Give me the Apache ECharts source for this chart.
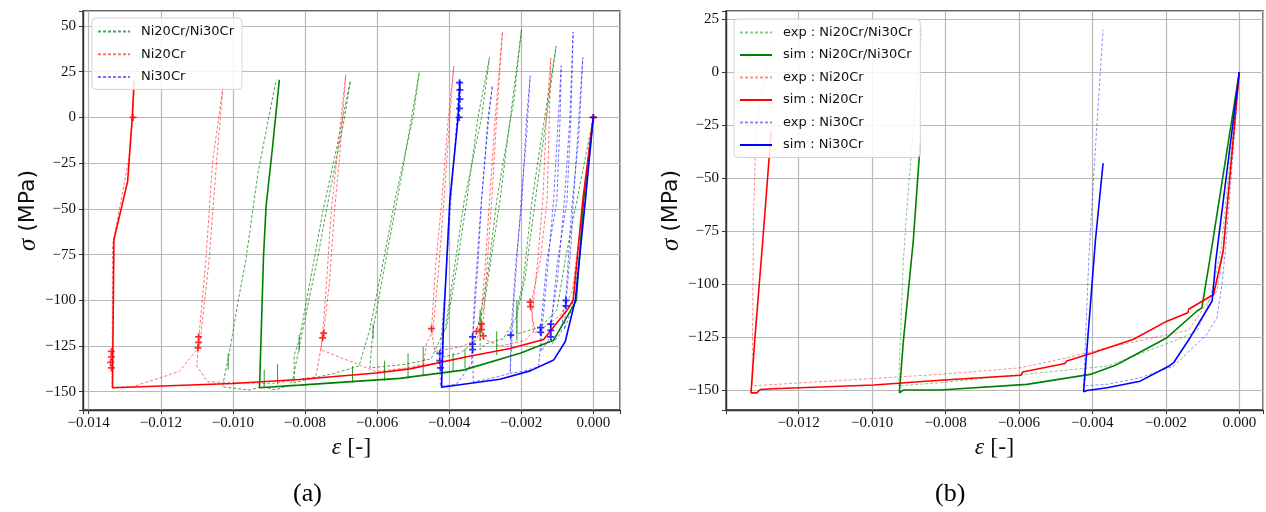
<!DOCTYPE html>
<html><head><meta charset="utf-8">
<script src="https://cdn.jsdelivr.net/npm/echarts@6.0.0/dist/echarts.min.js"></script>
<style>html,body{margin:0;padding:0;background:#fff}#c{width:1266px;height:512px}</style>
</head><body><div id="c"></div><script>
// ---------- (a) data ----------
const greenExpA = [[0,0],[-0.0002,-20],[-0.00078,-78],[-0.00101,-105.5],[-0.00147,-114.6],[-0.00212,-118.5],
 [-0.00212,-105.5],[-0.00194,-89],[-0.0017,-45.5],[-0.00135,0],[-0.00103,39.1],
 [-0.0013,0],[-0.00161,-45.5],[-0.0019,-89],[-0.00215,-110],[-0.0025,-121],[-0.003,-124],[-0.00314,-127],
 [-0.00314,-110],[-0.00305,-105.5],[-0.00287,-81.8],[-0.00259,-45.5],[-0.0023,0],[-0.00199,48.2],
 [-0.0022,10],[-0.00268,-45.5],[-0.0029,-81.8],[-0.0031,-105],[-0.0033,-123],[-0.0037,-129],[-0.00416,-131],
 [-0.00416,-118],[-0.00407,-114.6],[-0.00379,-81.8],[-0.00351,-45.5],[-0.0032,0],[-0.00288,32.7],
 [-0.0031,0],[-0.00358,-45.5],[-0.00385,-81.8],[-0.0041,-115],[-0.0045,-132],[-0.0052,-135],[-0.0062,-137],
 [-0.00611,-116],[-0.00574,-76],[-0.0053,-30],[-0.00483,24.5],
 [-0.005,0],[-0.0055,-45],[-0.0058,-76],[-0.0062,-116],[-0.0065,-136],[-0.0072,-140],[-0.0083,-145],
 [-0.0083,-130],[-0.00816,-121.8],[-0.00773,-76],[-0.0075,-51],[-0.0071,-15],[-0.00674,20],
 [-0.0069,0],[-0.0073,-40],[-0.00764,-76],[-0.0081,-120],[-0.00834,-143.6],[-0.00844,-146.4],[-0.00881,-149],[-0.00918,-147.3],[-0.00955,-149.1],[-0.01029,-147.3],
 [-0.0101,-129],[-0.00985,-100],[-0.00964,-78],[-0.0093,-30],[-0.0088,20.6]];
const redExpA = [[0,0],[-0.0003,-50],[-0.00058,-95],[-0.0009,-108],[-0.0013,-114],[-0.00165,-118],
 [-0.00173,-102],[-0.00147,-78],[-0.00128,-45],[-0.00122,0],[-0.00118,32.4],
 [-0.0013,0],[-0.0014,-45],[-0.00155,-80],[-0.0017,-109],[-0.00161,-116],[-0.0019,-122],[-0.0026,-125],[-0.00305,-121],
 [-0.0031,-115.5],[-0.0031,-105.5],[-0.003,-81.8],[-0.00288,-45.5],[-0.00272,0],[-0.00252,46.8],
 [-0.00268,0],[-0.00282,-45.5],[-0.00295,-81.8],[-0.00305,-112],[-0.00324,-121.8],[-0.0037,-125.5],[-0.0044,-128],
 [-0.00449,-116],[-0.00437,-80],[-0.00421,-47],[-0.00402,0],[-0.00387,28.2],
 [-0.00398,0],[-0.00415,-47],[-0.0043,-85],[-0.00445,-117],[-0.00463,-123.6],[-0.0047,-135],[-0.0052,-137],[-0.00603,-139],
 [-0.00756,-127],[-0.00751,-119],[-0.0074,-90],[-0.00727,-51],[-0.00713,-25.4],[-0.00687,23.3],
 [-0.00703,-20],[-0.00718,-51],[-0.00732,-90],[-0.00748,-118],[-0.0077,-141.8],[-0.0089,-145.5],[-0.0107,-144.6],
 [-0.011,-136],[-0.01095,-122],[-0.01075,-78],[-0.01056,-23.6],[-0.01027,17.3],
 [-0.01045,-23.6],[-0.01066,-78],[-0.01092,-125],[-0.01149,-139],[-0.01279,-147.3],[-0.01335,-147.6],
 [-0.01334,-70],[-0.01288,-22],[-0.01272,20]];
const blueExpA = [[0,0],[-0.0002,-40],[-0.00045,-85],[-0.0006,-105],[-0.0008,-116],
 [-0.00076,-102],[-0.00062,-70],[-0.00055,-45.5],[-0.0004,0],[-0.00029,32.7],
 [-0.0004,-10],[-0.0006,-50],[-0.00075,-95],[-0.0009,-118],[-0.00115,-124],
 [-0.00118,-116],[-0.001,-80],[-0.00073,-45.5],[-0.00062,0],[-0.00056,46.8],
 [-0.00065,0],[-0.0008,-45],[-0.001,-90],[-0.00125,-122],[-0.00145,-128],
 [-0.00146,-116],[-0.0013,-80],[-0.00101,-45.5],[-0.00092,0],[-0.00089,28.2],
 [-0.00097,0],[-0.0011,-45],[-0.0013,-90],[-0.00152,-136.4],[-0.002,-139],[-0.0023,-140],
 [-0.00229,-119],[-0.00215,-80],[-0.00198,-45.5],[-0.00185,0],[-0.00175,22.8],
 [-0.00185,-10],[-0.002,-45],[-0.0022,-100],[-0.00231,-140],[-0.0029,-143],[-0.00333,-144.6],
 [-0.00335,-123],[-0.0032,-80],[-0.0031,-45.5],[-0.00292,0],[-0.0028,17.3],
 [-0.0029,0],[-0.00312,-49],[-0.0033,-100],[-0.00338,-135],[-0.0038,-146],[-0.00424,-147],
 [-0.00426,-133],[-0.0041,-90],[-0.00395,-45],[-0.00378,0],[-0.00372,20]];
// small unloading spikes on the green exp curve: [strain, base, tip]
const greenSpikesA = [[-0.00913,-147.5,-138],[-0.00876,-146,-135],[-0.00668,-145,-136],[-0.00579,-144,-133],
 [-0.00514,-143,-129],[-0.00472,-141,-125.5],[-0.00389,-139,-129],[-0.00356,-137,-126.5],[-0.00268,-130,-117],
 [-0.00212,-122,-100],[-0.00314,-122,-105],[-0.01013,-138,-129],[-0.00816,-128,-119],[-0.00611,-121,-113],[-0.00416,-120,-112]];
const greenSimA = [[0,0],[-0.00027,-45.5],[-0.00047,-100],[-0.0011,-121.8],[-0.00203,-129],[-0.00361,-138.2],[-0.00537,-142.7],
 [-0.00815,-146.4],[-0.00926,-147.8],[-0.00915,-76.4],[-0.00908,-49],[-0.00889,-14.5],[-0.00871,20.6]];
const redSimA = [[0,0],[-0.00029,-45],[-0.00056,-100],[-0.00073,-105.5],[-0.00138,-121.5],[-0.00231,-126.4],[-0.00351,-130.9],
 [-0.00509,-137.5],[-0.00602,-139.8],[-0.00815,-143.3],[-0.01,-145.5],[-0.01334,-147.8],[-0.0133,-67],[-0.01292,-35],[-0.01279,0],[-0.01274,20]];
const blueSimA = [[0,0],[-0.00022,-45.5],[-0.0005,-100],[-0.00078,-122.7],[-0.0011,-132.7],[-0.00175,-138.6],[-0.00259,-143.2],
 [-0.00421,-147.6],[-0.00416,-114.6],[-0.00398,-45.5],[-0.00375,0],[-0.0037,20]];
const redMarksA = [[-0.01337,-128],[-0.01337,-131],[-0.01339,-134],[-0.01337,-137],[-0.01095,-120],[-0.01095,-123],[-0.01097,-126],
 [-0.01277,0],[-0.00748,-118],[-0.00751,-120.5],[-0.00449,-115.5],[-0.0031,-113],[-0.0031,-116],[-0.00324,-117],[-0.00305,-119.5],
 [-0.00175,-101],[-0.00174,-103.5],[0,0]];
const blueMarksA = [[-0.00372,0],[-0.00371,5],[-0.0037,10],[-0.0037,15],[-0.00371,19],[-0.00426,-129],[-0.00426,-133],[-0.00424,-137],
 [-0.00335,-120],[-0.00335,-124],[-0.00335,-127],[-0.00229,-119],[-0.00146,-115],[-0.00146,-117.5],[-0.00118,-113],[-0.00118,-116.5],
 [-0.00118,-120],[-0.00076,-100],[-0.00076,-103],[0,0]];
// ---------- (b) data ----------
const greenExpB = [[0,0],[-0.0005,-84],[-0.0007,-100],[-0.00088,-111.2],[-0.00115,-122.2],[-0.00179,-126.9],[-0.0036,-138.7],
 [-0.00542,-141.8],[-0.00815,-146.5],[-0.00928,-148],[-0.00915,-89],[-0.00906,-65.6],[-0.00866,20]];
const greenSimB = [[0,0],[-0.00077,-85],[-0.00102,-111.2],[-0.00115,-112.7],[-0.00197,-125.3],[-0.00324,-137.1],[-0.00343,-138.7],
 [-0.00406,-142.6],[-0.0041,-143.5],[-0.00579,-147.3],[-0.00815,-150],[-0.00915,-150],[-0.00926,-151.3],[-0.00915,-127],[-0.00888,-79.7],[-0.00869,-33.3]];
const redExpB = [[0,0],[-0.00043,-84.4],[-0.00061,-103.3],[-0.00097,-111.2],[-0.00138,-121.8],[-0.00234,-125.3],[-0.0036,-130],
 [-0.0047,-134.8],[-0.00597,-139.5],[-0.00815,-142.6],[-0.01327,-148],[-0.01323,-67],[-0.01316,-26],[-0.0127,19.7]];
const redSimB = [[0,0],[-0.00044,-84.4],[-0.0007,-104.9],[-0.00138,-111.9],[-0.0014,-113.5],[-0.00197,-117.5],[-0.00288,-126],
 [-0.00398,-132.4],[-0.0047,-136.3],[-0.00475,-137.5],[-0.0059,-141.5],[-0.00595,-143],[-0.00815,-145.4],[-0.00996,-147.6],
 [-0.01269,-149.4],[-0.01305,-149.7],[-0.01314,-151.3],[-0.0133,-151.3],[-0.0132,-127],[-0.01298,-79.7],[-0.01275,-27.8]];
const blueExpB = [[0,0],[-0.00038,-84.4],[-0.00047,-100],[-0.00061,-115.9],[-0.00088,-123.7],[-0.00179,-138.7],[-0.0027,-144.2],
 [-0.0036,-147.3],[-0.00424,-148],[-0.0041,-89],[-0.00397,-50],[-0.00371,20]];
const blueSimB = [[0,0],[-0.00064,-89],[-0.00074,-108],[-0.00134,-125.3],[-0.00179,-137.1],[-0.0019,-138.5],[-0.0027,-145.8],
 [-0.0036,-148.9],[-0.00415,-150.2],[-0.00424,-150.8],[-0.00392,-79.7],[-0.00371,-43]];
const legendA = ['Ni20Cr/Ni30Cr','Ni20Cr','Ni30Cr'];
const legendB = ['exp : Ni20Cr/Ni30Cr','sim : Ni20Cr/Ni30Cr','exp : Ni20Cr','sim : Ni20Cr','exp : Ni30Cr','sim : Ni30Cr'];

const G='#008000', R='#ff0000', B='#0000ff';
const MINUS='\u2212';
function fmtX(v){ const q=v/0.002; if(Math.abs(q-Math.round(q))>1e-6) return ''; const s=Math.abs(v)<1e-12?'0.000':v.toFixed(3); return s.replace('-',MINUS); }
function fmtY(v){ const q=v/25; if(Math.abs(q-Math.round(q))>1e-6) return ''; return String(Math.round(v)).replace('-',MINUS); }
const serif='Liberation Serif';
function xAx(g,min,max){ return {gridIndex:g,type:'value',min:min,max:max,minInterval:0.002,maxInterval:0.002,splitNumber:7,
  axisLine:{show:true,onZero:false,lineStyle:{color:'#333',width:1.4}},
  axisTick:{show:true,length:4,lineStyle:{color:'#333'}},
  axisLabel:{formatter:fmtX,margin:6,fontFamily:serif,fontSize:15,color:'#111'},
  splitLine:{show:true,lineStyle:{color:'#b8b8b8',width:1.2}},
  name:'{i|\u03b5}{t| [-]}',nameLocation:'middle',nameGap:26,
  nameTextStyle:{rich:{i:{fontFamily:serif,fontStyle:'italic',fontSize:24,color:'#111'},t:{fontFamily:serif,fontSize:24,color:'#111'}}}}; }
function yAx(g,min,max){ return {gridIndex:g,type:'value',min:min,max:max,minInterval:25,maxInterval:25,splitNumber:8,
  axisLine:{show:true,onZero:false,lineStyle:{color:'#333',width:1.4}},
  axisTick:{show:true,length:4,lineStyle:{color:'#333'}},
  axisLabel:{formatter:fmtY,margin:7,fontFamily:serif,fontSize:15,color:'#111'},
  splitLine:{show:true,lineStyle:{color:'#b8b8b8',width:1.2}},
  name:'{i|\u03c3}{t| (MPa)}',nameLocation:'middle',nameGap:38,nameRotate:90,
  nameTextStyle:{rich:{i:{fontFamily:serif,fontStyle:'italic',fontSize:25,color:'#111'},t:{fontFamily:'DejaVu Sans',fontSize:22,color:'#111'}}}}; }
function ln(name,data,color,g,exp,op){ return {type:'line',name:name,data:data,xAxisIndex:g,yAxisIndex:g,symbol:'none',showSymbol:false,
  animation:false,silent:true,z:exp?2:3,
  lineStyle:exp?{color:color,width:1,type:[3,2],opacity:op}:{color:color,width:1.6},itemStyle:{color:color,opacity:exp?op:1}}; }
const spikeData=[]; greenSpikesA.forEach(s=>{ spikeData.push([s[0],s[1]],[s[0],s[2]],['-','-']); });
const plus='path://M3,0h2v3h3v2h-3v3h-2v-3h-3v-2h3z';
const leg=(l,t,d,gap)=>({left:l,top:t,orient:'vertical',data:d,itemWidth:32,itemHeight:14,itemGap:gap,padding:[7,8,6,5],
  backgroundColor:'rgba(255,255,255,0.85)',borderColor:'#d4d4d4',borderWidth:1,borderRadius:4,selectedMode:false,
  itemStyle:{opacity:0,borderWidth:0},
  textStyle:{fontFamily:'DejaVu Sans',fontSize:13,color:'#111',padding:[0,0,0,6]}});
const option={animation:false,backgroundColor:'#fff',
 grid:[{left:83,right:646,top:11,bottom:102,show:true,borderColor:'#333',borderWidth:1.4},
       {left:726,right:3,top:11,bottom:102,show:true,borderColor:'#333',borderWidth:1.4}],
 xAxis:[xAx(0,-0.014158,0.000741),xAx(1,-0.013981,0.000646)],
 yAxis:[yAx(0,-160,58.2),yAx(1,-159.4,28.8)],
 legend:[leg(92,18,legendA,9.7),leg(734,19,legendB,9.5)],
 series:[
  ln(legendA[0],greenExpA,G,0,true,0.7),
  ln(legendA[1],redExpA,R,0,true,0.55),
  ln(legendA[2],blueExpA,B,0,true,0.55),
  {type:'line',name:'spikesA',data:spikeData,xAxisIndex:0,yAxisIndex:0,symbol:'none',connectNulls:false,z:2,lineStyle:{color:G,width:1,opacity:0.8}},
  ln('simA_g',greenSimA,G,0,false),
  ln('simA_r',redSimA,R,0,false),
  ln('simA_b',blueSimA,B,0,false),
  {type:'scatter',name:'marksA_r',data:redMarksA,xAxisIndex:0,yAxisIndex:0,symbol:plus,symbolSize:7,z:4,itemStyle:{color:R}},
  {type:'scatter',name:'marksA_b',data:blueMarksA,xAxisIndex:0,yAxisIndex:0,symbol:plus,symbolSize:7,z:4,itemStyle:{color:B}},
  ln(legendB[0],greenExpB,G,1,true,0.45),
  ln(legendB[1],greenSimB,G,1,false),
  ln(legendB[2],redExpB,R,1,true,0.45),
  ln(legendB[3],redSimB,R,1,false),
  ln(legendB[4],blueExpB,B,1,true,0.45),
  ln(legendB[5],blueSimB,B,1,false)
 ],
 graphic:[{type:'text',left:293,top:481,style:{text:'(a)',font:'26px "Liberation Serif"',fill:'#000'}},
          {type:'text',left:935,top:481,style:{text:'(b)',font:'26px "Liberation Serif"',fill:'#000'}}]
};
const chart=echarts.init(document.getElementById('c'));
chart.setOption(option);
</script></body></html>
